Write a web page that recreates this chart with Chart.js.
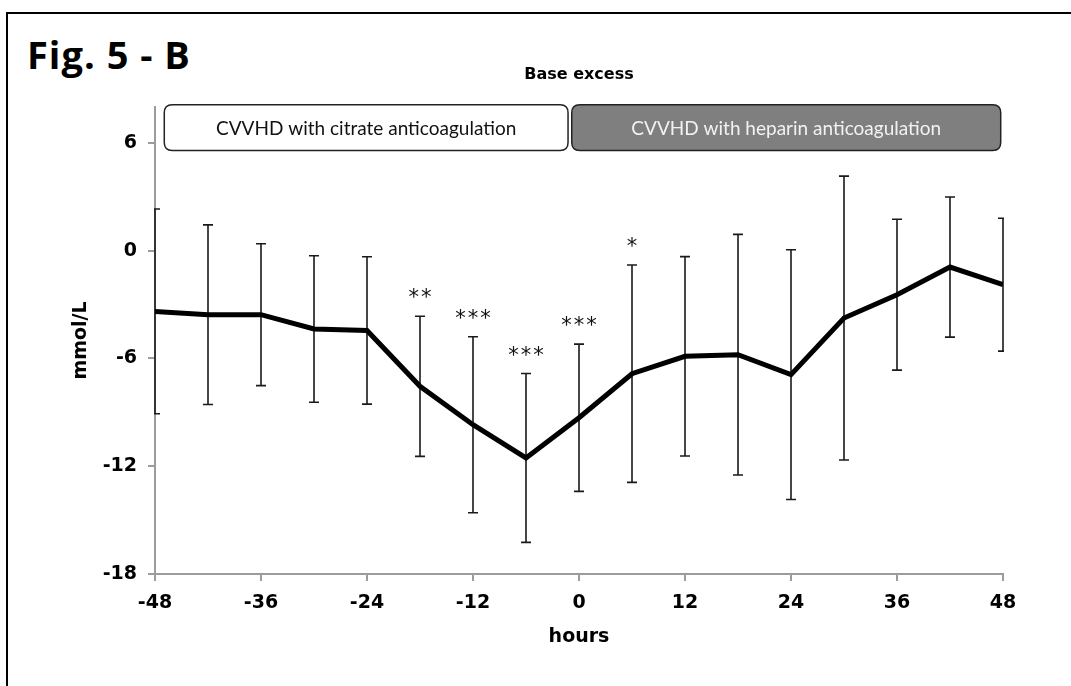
<!DOCTYPE html>
<html>
<head>
<meta charset="utf-8">
<script src="https://cdn.jsdelivr.net/npm/chart.js@4/dist/chart.umd.min.js"></script>
<style>
  html, body { margin: 0; padding: 0; background: #fff; overflow: hidden; }
  #frame { position: absolute; left: 6px; top: 12px; width: 1200px; height: 800px; border: 2px solid #000; }
  #fig { position: absolute; left: 27px; top: 28px; font: bold 38px "Open Sans", sans-serif; letter-spacing: 1px; line-height: normal; color: #000; }
  #wrap { position: absolute; left: 0; top: 0; width: 1071px; height: 686px; }
</style>
</head>
<body>
<div id="frame"></div>
<div id="fig">Fig. 5 - B</div>
<div id="wrap"><canvas id="chart"></canvas></div>
<script>
// hours relative to switch from citrate to heparin
const hours = [-48, -42, -36, -30, -24, -18, -12, -6, 0, 6, 12, 18, 24, 30, 36, 42, 48];
// base excess, mmol/L (mean)
const baseExcess = [-3.38, -3.56, -3.56, -4.36, -4.44, -7.55, -9.69, -11.54, -9.3, -6.85, -5.88, -5.79, -6.9, -3.75, -2.45, -0.91, -1.89];
// standard deviation
const sd = [5.7, 5.0, 3.95, 4.08, 4.1, 3.9, 4.9, 4.7, 4.1, 6.05, 5.55, 6.7, 6.95, 7.9, 4.2, 3.9, 3.7];
// significance markers
const stars = ['', '', '', '', '', '**', '***', '***', '***', '*', '', '', '', '', '', '', ''];

const xTicks = [-48, -36, -24, -12, 0, 12, 24, 36, 48];
const yTicks = [-18, -12, -6, 0, 6];

// treatment phase boxes along the top
const phaseLabels = ['CVVHD with citrate anticoagulation', 'CVVHD with heparin anticoagulation'];
const phaseFrom = [-46.95, -0.82];
const phaseTo = [-1.24, 47.74];

const AXIS_GREY = '#9c9c9c';
const tickFont = { family: 'DejaVu Sans', size: 19, weight: 'bold' };

function roundRect(ctx, x, y, w, h, r) {
    ctx.beginPath();
    ctx.moveTo(x + r, y);
    ctx.lineTo(x + w - r, y);
    ctx.quadraticCurveTo(x + w, y, x + w, y + r);
    ctx.lineTo(x + w, y + h - r);
    ctx.quadraticCurveTo(x + w, y + h, x + w - r, y + h);
    ctx.lineTo(x + r, y + h);
    ctx.quadraticCurveTo(x, y + h, x, y + h - r);
    ctx.lineTo(x, y + r);
    ctx.quadraticCurveTo(x, y, x + r, y);
    ctx.closePath();
}

const errorBars = {
    id: 'errorBars',
    beforeDatasetsDraw(chart) {
        const { ctx, chartArea, scales: { x, y } } = chart;
        ctx.save();
        ctx.beginPath();
        ctx.rect(chartArea.left - 1, chartArea.top - 10, chartArea.right - chartArea.left + 2, chartArea.bottom - chartArea.top + 20);
        ctx.clip();
        ctx.strokeStyle = '#1a1a1a';
        ctx.lineWidth = 1.6;
        hours.forEach((h, i) => {
            const px = x.getPixelForValue(h);
            const top = y.getPixelForValue(baseExcess[i] + sd[i]);
            const bot = y.getPixelForValue(baseExcess[i] - sd[i]);
            ctx.beginPath();
            ctx.moveTo(px, top); ctx.lineTo(px, bot);
            ctx.moveTo(px - 5, top); ctx.lineTo(px + 5, top);
            ctx.moveTo(px - 5, bot); ctx.lineTo(px + 5, bot);
            ctx.stroke();
        });
        ctx.restore();
    },
    afterDatasetsDraw(chart) {
        const { ctx, chartArea, scales: { x, y } } = chart;
        ctx.save();
        // significance stars
        ctx.fillStyle = '#111';
        ctx.font = '21px "DejaVu Sans"';
        ctx.letterSpacing = '2px';
        ctx.textAlign = 'center';
        ctx.textBaseline = 'alphabetic';
        hours.forEach((h, i) => {
            if (!stars[i]) return;
            const px = x.getPixelForValue(h);
            const top = y.getPixelForValue(baseExcess[i] + sd[i]);
            ctx.fillText(stars[i], px + 1, top - 12);
        });
        ctx.letterSpacing = '0px';

        // phase boxes
        phaseLabels.forEach((label, i) => {
            const x0 = x.getPixelForValue(phaseFrom[i]);
            const x1 = x.getPixelForValue(phaseTo[i]);
            const y0 = y.getPixelForValue(8.13);
            const y1 = y.getPixelForValue(5.58);
            roundRect(ctx, x0, y0, x1 - x0, y1 - y0, 8);
            ctx.fillStyle = i === 0 ? '#ffffff' : '#7f7f7f';
            ctx.fill();
            ctx.lineWidth = 1.5;
            ctx.strokeStyle = '#222';
            ctx.stroke();
            ctx.fillStyle = i === 0 ? '#111' : '#f2f2f2';
            ctx.font = '19px Lato';
            ctx.textBaseline = 'middle';
            ctx.fillText(label, (x0 + x1) / 2, (y0 + y1) / 2 + 1);
        });

        // chart title
        ctx.fillStyle = '#000';
        ctx.font = 'bold 16px "DejaVu Sans"';
        ctx.textBaseline = 'middle';
        ctx.fillText('Base excess', (chartArea.left + chartArea.right) / 2, 75);
        ctx.restore();
    }
};

document.addEventListener('DOMContentLoaded', () => {
    const ctx = document.getElementById('chart');
    new Chart(ctx, {
        type: 'line',
        data: {
            datasets: [{
                label: 'Base excess',
                data: hours.map((h, i) => ({ x: h, y: baseExcess[i] })),
                borderColor: '#000',
                borderWidth: 5,
                pointRadius: 0,
                tension: 0,
                fill: false
            }]
        },
        options: {
            responsive: true,
            maintainAspectRatio: false,
            animation: false,
            layout: { padding: { left: 66, top: 107, right: 68, bottom: 33.6 } },
            plugins: {
                legend: { display: false },
                title: { display: false },
                tooltip: { enabled: false }
            },
            scales: {
                x: {
                    type: 'linear',
                    min: -48,
                    max: 48,
                    afterBuildTicks: (scale) => { scale.ticks = xTicks.map(v => ({ value: v })); },
                    afterFit: (scale) => { scale.height = 78.4; },
                    grid: { drawOnChartArea: false, drawTicks: true, tickLength: 7, color: AXIS_GREY, lineWidth: 2 },
                    border: { color: AXIS_GREY, width: 2 },
                    ticks: { color: '#000', font: tickFont, padding: 11, maxRotation: 0 },
                    title: { display: true, text: 'hours', color: '#000', font: tickFont, padding: { top: 4, bottom: 4 } }
                },
                y: {
                    min: -18,
                    max: 8,
                    afterBuildTicks: (scale) => { scale.ticks = yTicks.map(v => ({ value: v })); },
                    afterFit: (scale) => { scale.width = 89; },
                    grid: { drawOnChartArea: false, drawTicks: true, tickLength: 7, color: AXIS_GREY, lineWidth: 2 },
                    border: { color: AXIS_GREY, width: 2 },
                    ticks: { color: '#000', font: tickFont, padding: 11 },
                    title: { display: true, text: 'mmol/L', color: '#000', font: tickFont, padding: { top: 4, bottom: 4 } }
                }
            }
        },
        plugins: [errorBars]
    });
});
</script>
</body>
</html>
